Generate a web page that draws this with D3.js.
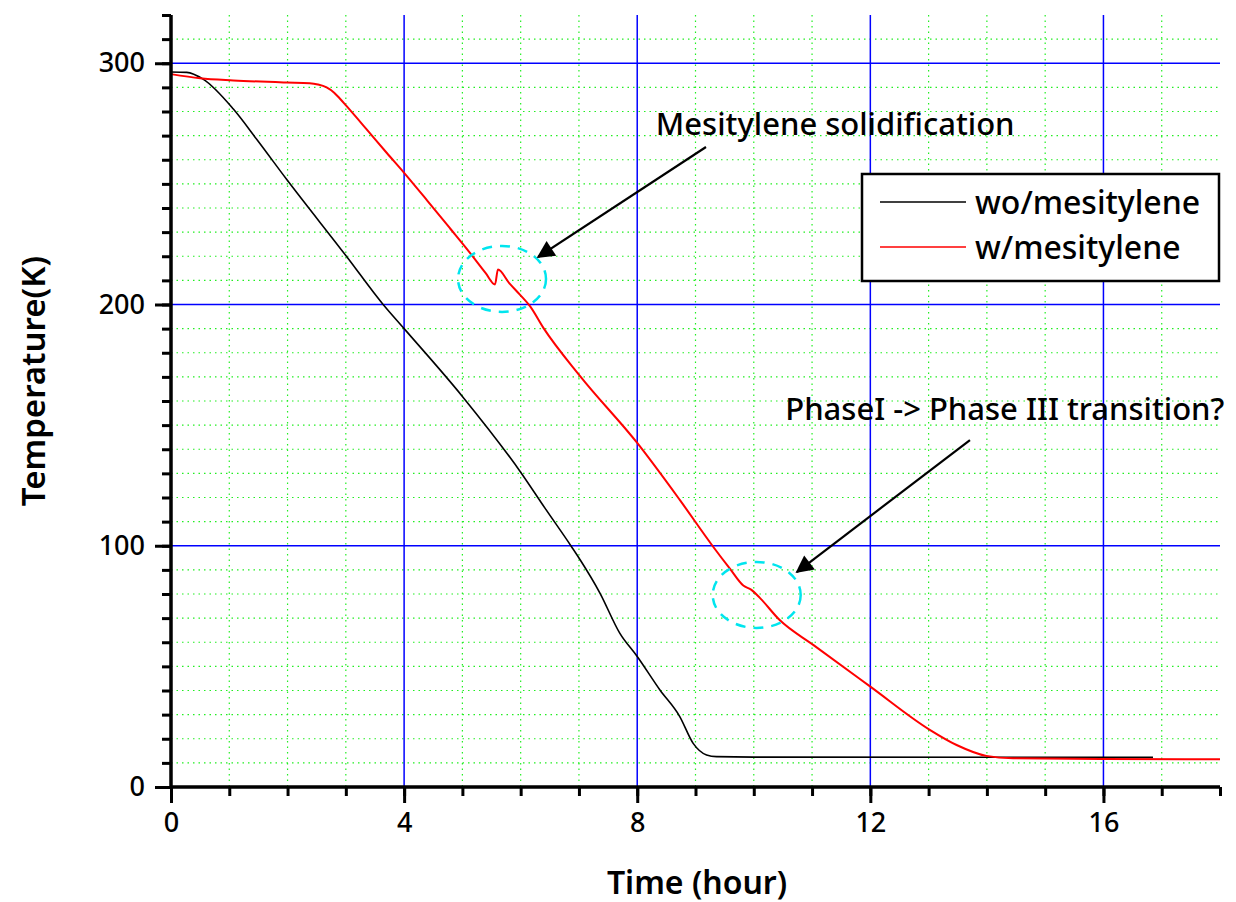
<!DOCTYPE html>
<meta charset="utf-8">
<style>
  body { margin: 0; background: #fff; }
  svg { display: block; font-family: "Noto Sans", sans-serif; }
</style>
<body>
<svg id="chart" width="1236" height="902"></svg>
<script src="https://d3js.org/d3.v7.min.js"></script>
<script>
  // without mesitylene (black)
  const woTime = [0, 0.27, 0.55, 1.07, 1.47, 1.98, 3.01, 3.64, 4.0, 5.0, 6.0, 6.42, 6.87, 7.02, 7.36, 7.7, 8.0, 8.39, 8.73, 8.96, 9.19, 9.36, 10, 16.85];
  const woTemp = [296.4, 296.2, 293.4, 281, 268.5, 252, 220, 200, 190, 161.9, 130.5, 115.5, 99.7, 94.2, 80.4, 63.8, 54.1, 40.2, 29.2, 18.1, 13.3, 12.6, 12.4, 12.3];
  // with mesitylene (red)
  const wTime = [0, 0.5, 1.07, 1.98, 2.38, 2.52, 2.67, 2.8, 2.9, 3.01, 3.35, 3.7, 4.0, 4.4, 4.79, 5.13, 5.4, 5.56, 5.61, 5.8, 5.99, 6.16, 6.39, 7.02, 8.0, 8.73, 9.3, 9.59, 9.82, 9.96, 10.1, 10.44, 11.02, 12.0, 13.02, 13.48, 13.99, 14.45, 16, 18];
  const wTemp = [295.5, 293.8, 292.9, 292.0, 291.7, 291.2, 290.0, 287.8, 285.3, 282.3, 272.8, 262.9, 254.6, 243, 231.5, 221.4, 213, 208.3, 214.5, 209, 204, 199.3, 190.3, 170.3, 142.6, 119, 99.7, 90.5, 83.5, 81.7, 78.5, 69.3, 58.9, 41.6, 23.7, 17.4, 12.9, 11.9, 11.6, 11.5];

  const seriesNames = ["wo/mesitylene", "w/mesitylene"];
  const seriesColors = ["#000000", "#ff0000"];

  const xMajor = [0, 4, 8, 12, 16];
  const yMajor = [0, 100, 200, 300];

  const svg = d3.select("#chart");
  const mLeft = 171, mRight = 1220, mTop = 15, mBottom = 787;

  const x = d3.scaleLinear().domain([0, 18]).range([mLeft, mRight]);
  const y = d3.scaleLinear().domain([0, 320]).range([mBottom, mTop]);

  // minor grid (green dotted)
  const g = svg.append("g");
  g.selectAll(".vminor")
    .data(d3.range(1, 18).filter(d => d % 4 !== 0))
    .join("line")
    .attr("x1", d => x(d)).attr("x2", d => x(d))
    .attr("y1", mTop).attr("y2", mBottom)
    .attr("stroke", "#22ee22").attr("stroke-width", 1.2)
    .attr("stroke-dasharray", "1.5,4");
  g.selectAll(".hminor")
    .data(d3.range(10, 320, 10).filter(d => d % 100 !== 0))
    .join("line")
    .attr("x1", mLeft).attr("x2", mRight)
    .attr("y1", d => y(d)).attr("y2", d => y(d))
    .attr("stroke", "#22ee22").attr("stroke-width", 1.2)
    .attr("stroke-dasharray", "1.5,4");

  // major grid (blue)
  g.selectAll(".vmajor")
    .data(xMajor.filter(d => d > 0))
    .join("line")
    .attr("x1", d => x(d)).attr("x2", d => x(d))
    .attr("y1", mTop).attr("y2", mBottom)
    .attr("stroke", "#0000ff").attr("stroke-width", 1.5);
  g.selectAll(".hmajor")
    .data(yMajor.filter(d => d > 0))
    .join("line")
    .attr("x1", mLeft).attr("x2", mRight)
    .attr("y1", d => y(d)).attr("y2", d => y(d))
    .attr("stroke", "#0000ff").attr("stroke-width", 1.5);

  // curves
  const line = d3.line().x(d => x(d[0])).y(d => y(d[1])).curve(d3.curveMonotoneX);
  const series = [d3.zip(woTime, woTemp), d3.zip(wTime, wTemp)];
  svg.selectAll(".series")
    .data(series)
    .join("path")
    .attr("d", line)
    .attr("fill", "none")
    .attr("stroke", (d, i) => seriesColors[i])
    .attr("stroke-width", (d, i) => i === 0 ? 1.6 : 2);

  // axes
  const xAxisMinor = d3.axisBottom(x).tickValues(d3.range(0, 19)).tickSize(9).tickFormat("");
  const xAxisMajor = d3.axisBottom(x).tickValues(xMajor).tickSize(16).tickPadding(10).tickFormat(d3.format("d"));
  const yAxisMinor = d3.axisLeft(y).tickValues(d3.range(0, 330, 10)).tickSize(9).tickFormat("");
  const yAxisMajor = d3.axisLeft(y).tickValues(yMajor).tickSize(16).tickPadding(10).tickFormat(d3.format("d"));

  [xAxisMinor, xAxisMajor].forEach(a => {
    svg.append("g").attr("transform", `translate(0,${mBottom})`).call(a)
      .call(s => s.select(".domain").attr("stroke-width", 3).attr("d", `M${mLeft},0H${mRight}`))
      .call(s => s.selectAll(".tick line").attr("stroke-width", 3));
  });
  [yAxisMinor, yAxisMajor].forEach(a => {
    svg.append("g").attr("transform", `translate(${mLeft},0)`).call(a)
      .call(s => s.select(".domain").attr("stroke-width", 3).attr("d", `M0,${mTop}V${mBottom + 1}`))
      .call(s => s.selectAll(".tick line").attr("stroke-width", 3));
  });
  svg.selectAll(".tick text")
    .attr("font-family", "Noto Sans").attr("font-size", 27)
    .attr("font-weight", 500).attr("fill", "#000");

  // axis titles
  svg.append("text")
    .attr("x", 697).attr("y", 894)
    .attr("text-anchor", "middle")
    .attr("font-size", 32).attr("font-weight", 600)
    .text("Time (hour)");
  svg.append("text")
    .attr("transform", "translate(45,381) rotate(-90)")
    .attr("text-anchor", "middle")
    .attr("font-size", 33).attr("font-weight", 600)
    .text("Temperature(K)");

  // annotations
  svg.append("defs").append("marker")
    .attr("id", "head").attr("viewBox", "0 0 10 10")
    .attr("refX", 9).attr("refY", 5)
    .attr("markerWidth", 9).attr("markerHeight", 8)
    .attr("markerUnits", "strokeWidth")
    .attr("orient", "auto")
    .append("path").attr("d", "M0,0L10,5L0,10Z").attr("fill", "#000");

  const notes = [
    { text: "Mesitylene solidification", tx: 8.32, ty: 270.3, from: [9.18, 265.3], to: [6.3, 219.7], cx: 5.68, cy: 210.6 },
    { text: "PhaseI -> Phase III transition?", tx: 10.54, ty: 152, from: [13.71, 143.8], to: [10.74, 89.1], cx: 10.05, cy: 79.6 }
  ];
  notes.forEach(n => {
    svg.append("ellipse")
      .attr("cx", x(n.cx)).attr("cy", y(n.cy))
      .attr("rx", 44).attr("ry", 33)
      .attr("fill", "none").attr("stroke", "#00e5ee")
      .attr("stroke-width", 2.5).attr("stroke-dasharray", "10,8");
    svg.append("line")
      .attr("x1", x(n.from[0])).attr("y1", y(n.from[1]))
      .attr("x2", x(n.to[0])).attr("y2", y(n.to[1]))
      .attr("stroke", "#000").attr("stroke-width", 2.2)
      .attr("marker-end", "url(#head)");
    svg.append("text")
      .attr("x", x(n.tx)).attr("y", y(n.ty))
      .attr("font-size", 31).attr("font-weight", 500)
      .text(n.text);
  });

  // legend
  const lg = svg.append("g").attr("transform", "translate(862,174)");
  lg.append("rect").attr("width", 357).attr("height", 107)
    .attr("fill", "#fff").attr("stroke", "#000").attr("stroke-width", 2.5);
  seriesNames.forEach((name, i) => {
    lg.append("line").attr("x1", 18).attr("x2", 104)
      .attr("y1", 28 + i * 45).attr("y2", 28 + i * 45)
      .attr("stroke", seriesColors[i]).attr("stroke-width", 1.5);
    lg.append("text").attr("x", 113).attr("y", 40 + i * 45)
      .attr("font-size", 32).attr("font-weight", 500)
      .text(name);
  });
</script>
</body>
